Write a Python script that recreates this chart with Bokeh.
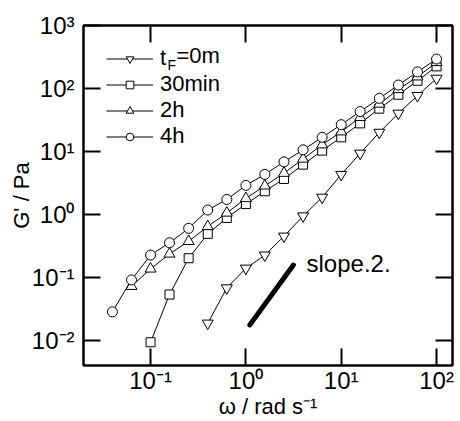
from bokeh.plotting import figure
from bokeh.models import LogAxis, Legend, LegendItem, Label, Range1d, FixedTicker
from bokeh.embed import file_html
from bokeh.resources import INLINE

# ---- data ----
omega_0m = [0.398, 0.631, 1.0, 1.58, 2.51, 3.98, 6.31, 10.0, 15.8, 25.1, 39.8, 63.1, 100.0]
g_0m = [0.0191, 0.0692, 0.142, 0.229, 0.457, 0.955, 1.89, 4.34, 9.42, 20.2, 40.5, 77.3, 145.0]

omega_30min = [0.1, 0.158, 0.251, 0.398, 0.631, 1.0, 1.58, 2.51, 3.98, 6.31, 10.0, 15.8, 25.1, 39.8, 63.1, 100.0]
g_30min = [0.00955, 0.0545, 0.205, 0.499, 0.893, 1.48, 2.36, 3.70, 6.24, 10.4, 16.9, 28.1, 48.1, 80.0, 133.0, 225.0]

omega_2h = [0.0631, 0.1, 0.158, 0.251, 0.398, 0.631, 1.0, 1.58, 2.51, 3.98, 6.31, 10.0, 15.8, 25.1, 39.8, 63.1, 100.0]
g_2h = [0.0738, 0.139, 0.240, 0.380, 0.653, 1.07, 1.82, 2.88, 4.57, 7.67, 12.9, 20.7, 35.0, 57.0, 97.0, 154.0, 260.0]

omega_4h = [0.0398, 0.0631, 0.1, 0.158, 0.251, 0.398, 0.631, 1.0, 1.58, 2.51, 3.98, 6.31, 10.0, 15.8, 25.1, 39.8, 63.1, 100.0]
g_4h = [0.029, 0.093, 0.23, 0.36, 0.61, 1.19, 1.75, 2.92, 4.37, 6.9, 10.7, 16.9, 26.8, 43.3, 70.0, 114.0, 184.0, 294.0]

slope_omega = [1.1, 3.15]
slope_g = [0.018, 0.16]

series_labels = ["t", "30min", "2h", "4h"]
x_ticks = [0.1, 1, 10, 100]
x_tick_labels = ["10\u207b\u00b9", "10\u2070", "10\u00b9", "10\u00b2"]
y_ticks = [0.01, 0.1, 1, 10, 100, 1000]
y_tick_labels = ["10\u207b\u00b2", "10\u207b\u00b9", "10\u2070", "10\u00b9", "10\u00b2", "10\u00b3"]

FONT = "Liberation Sans"

p = figure(width=460, height=421, x_axis_type="log", y_axis_type="log",
           x_range=Range1d(0.0198, 147.0), y_range=Range1d(0.00409, 1000.0),
           output_backend="svg", toolbar_location=None,
           min_border_left=83, min_border_right=8, min_border_top=25, min_border_bottom=56)
p.background_fill_color = "white"
p.border_fill_color = "white"
p.grid.visible = False
p.outline_line_color = "black"
p.outline_line_width = 2

def style_axis(ax, ticks, labels, show_labels=True):
    ax.ticker = FixedTicker(ticks=ticks)
    ax.axis_line_width = 2
    ax.axis_line_color = "black"
    ax.major_tick_in = 17
    ax.major_tick_out = 0
    ax.major_tick_line_width = 2
    ax.major_tick_line_color = "black"
    ax.minor_tick_line_color = None
    ax.major_label_text_font = FONT
    ax.major_label_text_color = "black"
    if show_labels:
        ax.major_label_text_font_size = "24px"
        ax.major_label_overrides = {t: l for t, l in zip(ticks, labels)}
    else:
        ax.major_label_text_font_size = "2px"
        ax.major_label_standoff = 0
        ax.major_label_overrides = {t: "" for t in ticks}

xa = p.xaxis[0]
ya = p.yaxis[0]
style_axis(xa, x_ticks, x_tick_labels)
style_axis(ya, y_ticks, y_tick_labels)
xa.major_label_standoff = 1
ya.major_label_standoff = 9
xa.axis_label = "\u03c9 / rad s\u207b\u00b9"
ya.axis_label = "G' / Pa"
for ax in (xa, ya):
    ax.axis_label_text_font = FONT
    ax.axis_label_text_font_size = "22px"
    ax.axis_label_text_font_style = "normal"
    ax.axis_label_text_color = "black"
xa.axis_label_standoff = -3
ya.axis_label_standoff = -5

top = LogAxis()
right = LogAxis()
style_axis(top, x_ticks, x_tick_labels, show_labels=False)
style_axis(right, y_ticks, y_tick_labels, show_labels=False)
p.add_layout(top, "above")
p.add_layout(right, "right")

# ---- series ----
def series(xs, ys, marker, size):
    l = p.line(xs, ys, line_color="black", line_width=1)
    s = p.scatter(xs, ys, marker=marker, size=size, fill_color="white",
                  line_color="black", line_width=1)
    return l, s

r0 = series(omega_0m, g_0m, "inverted_triangle", 11)
r1 = series(omega_30min, g_30min, "square", 9)
r2 = series(omega_2h, g_2h, "triangle", 11)
r3 = series(omega_4h, g_4h, "circle", 10)

p.line(slope_omega, slope_g, line_color="black", line_width=5, line_cap="round")

legend = Legend(items=[LegendItem(label=series_labels[i], renderers=list(r))
                       for i, r in enumerate([r0, r1, r2, r3])],
                location=(23, 216))
legend.glyph_width = 47
legend.glyph_height = 19
legend.label_height = 24
legend.padding = 0
legend.spacing = 0
legend.margin = 0
legend.label_standoff = 7
legend.border_line_color = None
legend.background_fill_alpha = 0
legend.label_text_font = FONT
legend.label_text_font_size = "22px"
legend.label_text_color = "black"
p.add_layout(legend)

p.add_layout(Label(x=84, y=301, x_units="screen", y_units="screen", text="F",
                   text_font=FONT, text_font_size="14px", text_color="black",
                   text_baseline="alphabetic"))
p.add_layout(Label(x=93, y=310, x_units="screen", y_units="screen", text="=0m",
                   text_font=FONT, text_font_size="22px", text_color="black",
                   text_baseline="middle"))
p.add_layout(Label(x=223, y=102, x_units="screen", y_units="screen", text="slope.2.",
                   text_font=FONT, text_font_size="24px", text_color="black",
                   text_baseline="middle"))

open("out.html", "w").write(file_html(p, INLINE))
